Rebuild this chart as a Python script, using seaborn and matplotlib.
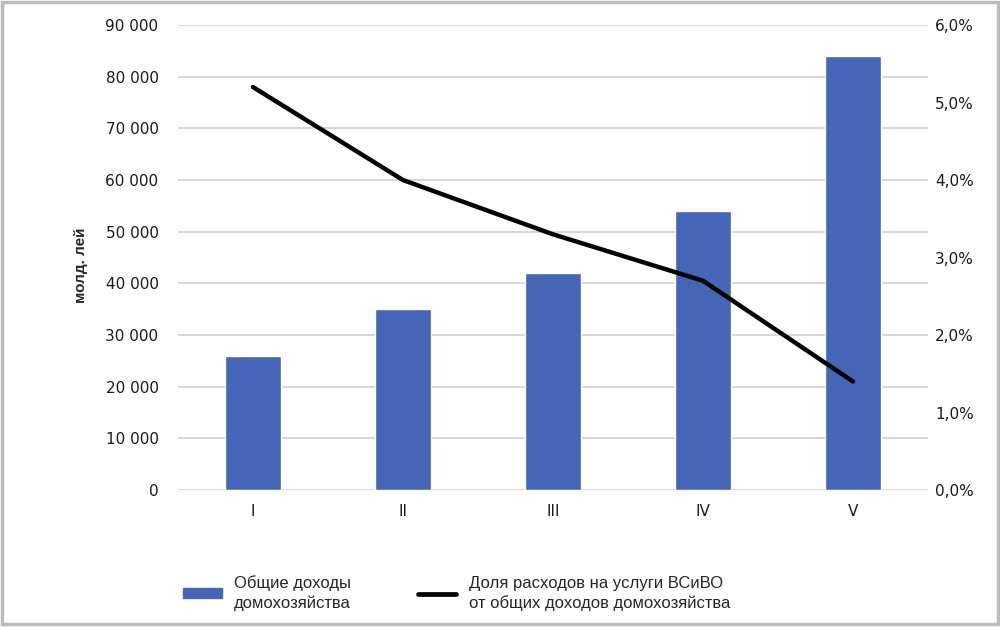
import matplotlib
matplotlib.use("Agg")
import matplotlib.pyplot as plt
import matplotlib.ticker as mticker
from matplotlib.patches import Patch, Rectangle
from matplotlib.lines import Line2D
import seaborn as sns
import pandas as pd

categories = ["I", "II", "III", "IV", "V"]
income = [26000, 35000, 42000, 54000, 84000]
share_pct = [5.2, 4.0, 3.3, 2.7, 1.4]
bar_label = "Общие доходы\nдомохозяйства"
line_label = "Доля расходов на услуги ВСиВО\nот общих доходов домохозяйства"
ylabel = "молд. лей"

sns.set_theme(style="white")
plt.rcParams["font.family"] = ["DejaVu Sans"]

df = pd.DataFrame({"cat": categories, "income": income, "share": share_pct})

fig = plt.figure(figsize=(10, 6.27), dpi=100)
ax = fig.add_axes([0.178, 0.2185, 0.75, 0.7415])

bar_color = "#4566B6"
sns.barplot(data=df, x="cat", y="income", color=bar_color, width=0.37,
            saturation=1, ax=ax, zorder=3)
ax.set_ylim(0, 90000)
ax.set_xlim(-0.5, 4.5)
ax.yaxis.set_major_locator(mticker.MultipleLocator(10000))
ax.yaxis.set_major_formatter(mticker.FuncFormatter(
    lambda v, p: f"{int(v):,}".replace(",", " ")))
ax.grid(axis="y", color="#d0d0d0", linewidth=1.2, zorder=0)
ax.set_axisbelow(True)
for s in ax.spines.values():
    s.set_visible(False)
ax.tick_params(axis="y", length=0, pad=14, labelsize=11, labelcolor="#1a1a1a")
ax.tick_params(axis="x", length=0, pad=10, labelsize=11, labelcolor="#1a1a1a")
ax.set_xlabel("")
ax.set_ylabel(ylabel, fontsize=11, fontweight="bold",
              family=["Liberation Sans", "DejaVu Sans"])
ax.yaxis.set_label_coords(-0.120, 0.484)

ax2 = ax.twinx()
sns.pointplot(data=df, x="cat", y="share", color="black", markers="",
              linestyles="-", ax=ax2, zorder=4)
for l in ax2.lines:
    l.set_linewidth(3.2)
    l.set_solid_capstyle("round")
ax2.set_ylim(0, 6)
ax2.set_xlim(-0.5, 4.5)
ax2.yaxis.set_major_locator(mticker.MultipleLocator(1))
ax2.yaxis.set_major_formatter(mticker.FuncFormatter(
    lambda v, p: f"{v:.1f}%".replace(".", ",")))
for s in ax2.spines.values():
    s.set_visible(False)
ax2.tick_params(axis="y", length=0, pad=5, labelsize=11, labelcolor="#1a1a1a")
ax2.set_ylabel("")
ax2.set_xlabel("")
ax2.grid(False)

handles = [Patch(facecolor=bar_color, edgecolor=bar_color),
           Line2D([0], [0], color="black", linewidth=3.4)]
leg = fig.legend(handles, [bar_label, line_label], loc="lower left",
                 bbox_to_anchor=(0.175, 0.012), ncol=2, frameon=False, borderpad=0,
                 prop={"family": ["Liberation Sans", "DejaVu Sans"], "size": 12},
                 handlelength=2.3, handleheight=0.55, handletextpad=0.75,
                 columnspacing=4.0, labelspacing=0.3)
for t in leg.get_texts():
    t.set_linespacing(1.35)

fig.patches.append(Rectangle((0.002, 0.004), 0.996, 0.993, transform=fig.transFigure,
                             fill=False, edgecolor="#bbbbbb", linewidth=2.5))

fig.savefig("out.png", dpi=100)
